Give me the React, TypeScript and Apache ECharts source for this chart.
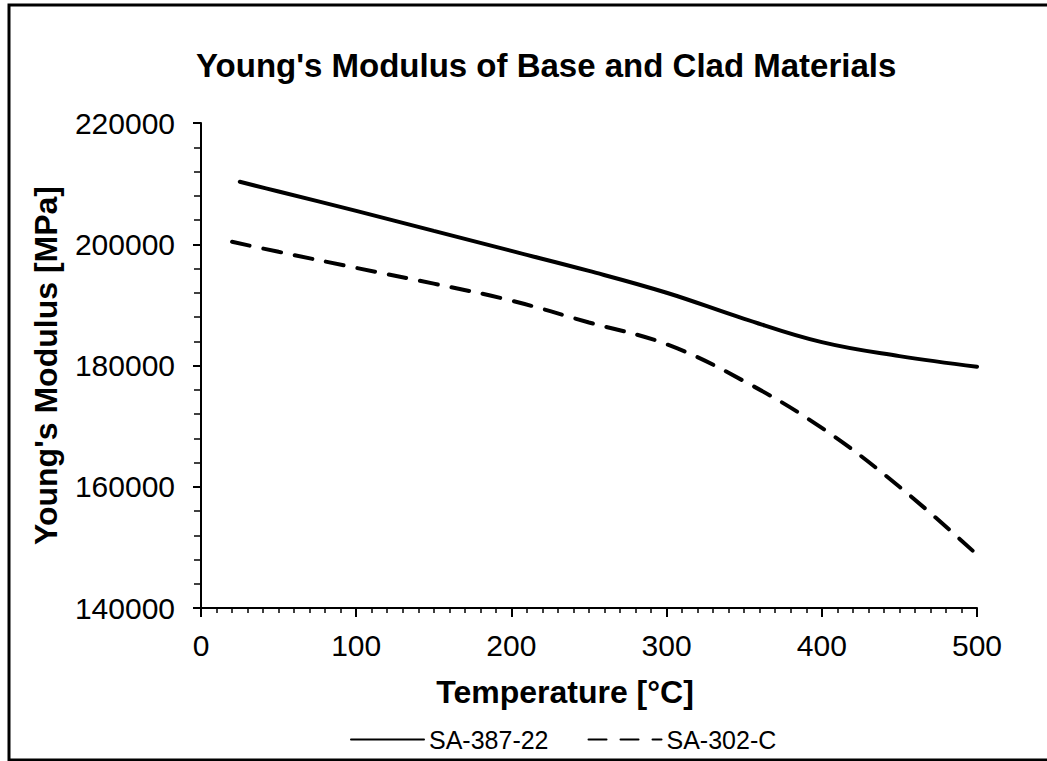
import React, { useEffect, useRef } from "react";
import * as echarts from "echarts";

const title = "Young's Modulus of Base and Clad Materials";
const xName = "Temperature [°C]";
const yName = "Young's Modulus [MPa]";
const seriesNames = ["SA-387-22", "SA-302-C"];

const tempsA = [25, 50, 100, 150, 200, 250, 300, 350, 400, 450, 500];
const modulusA = [210300, 208700, 205500, 202200, 198900, 195600, 192000, 187700, 183850, 181550, 179800];

const tempsB = [20, 50, 100, 150, 200, 250, 300, 350, 400, 450, 500];
const modulusB = [200400, 198750, 196100, 193500, 190700, 187100, 183500, 177400, 169700, 160000, 148800];

const FONT = "Liberation Sans, Arial, Helvetica, sans-serif";

export default function App() {
  const ref = useRef<HTMLDivElement>(null);
  useEffect(() => {
    document.body.style.margin = "0";
    if (!ref.current) return;
    const chart = echarts.init(ref.current, null, { renderer: "svg" });
    chart.setOption({
      animation: false,
      backgroundColor: "#ffffff",
      title: {
        text: title,
        left: 191,
        top: 44,
        textStyle: { fontFamily: FONT, fontSize: 33, fontWeight: "bold", color: "#000" },
      },
      graphic: [
        {
          type: "rect",
          shape: { x: 9, y: 5, width: 1060, height: 755 },
          style: { fill: "none", stroke: "#000", lineWidth: 3 },
          silent: true,
        },
      ],
      legend: {
        top: 722,
        left: 345,
        itemWidth: 73,
        itemHeight: 14,
        itemGap: 39,
        itemStyle: { color: "rgba(0,0,0,0)", borderWidth: 0 },
        textStyle: { fontFamily: FONT, fontSize: 25, color: "#000" },
        data: seriesNames,
      },
      grid: { left: 201, right: 70, top: 123, bottom: 153 },
      xAxis: {
        type: "value",
        min: 0,
        max: 500,
        interval: 100,
        name: xName,
        nameLocation: "middle",
        nameGap: 68,
        nameTextStyle: {
          fontFamily: FONT,
          fontSize: 32,
          fontWeight: "bold",
          color: "#000",
          padding: [0, 48, 0, 0],
        },
        axisLine: { lineStyle: { color: "#000", width: 2 } },
        axisTick: { length: 9, lineStyle: { color: "#000", width: 2 } },
        minorTick: { show: true, splitNumber: 10, length: 5, lineStyle: { color: "#000", width: 1.5 } },
        splitLine: { show: false },
        axisLabel: { fontFamily: FONT, fontSize: 30, color: "#000", margin: 22 },
      },
      yAxis: {
        type: "value",
        min: 140000,
        max: 220000,
        interval: 20000,
        name: yName,
        nameLocation: "middle",
        nameGap: 139,
        nameTextStyle: { fontFamily: FONT, fontSize: 32, fontWeight: "bold", color: "#000" },
        axisLine: { show: true, lineStyle: { color: "#000", width: 2 } },
        axisTick: { show: true, length: 8, lineStyle: { color: "#000", width: 2 } },
        minorTick: { show: true, splitNumber: 5, length: 7, lineStyle: { color: "#000", width: 1.5 } },
        splitLine: { show: false },
        axisLabel: {
          fontFamily: FONT,
          fontSize: 30,
          color: "#000",
          margin: 26,
          formatter: (v: number) => String(v),
        },
      },
      series: [
        {
          name: seriesNames[0],
          type: "line",
          smooth: 0.4,
          symbol: "none",
          data: tempsA.map((t, i) => [t, modulusA[i]]),
          lineStyle: { color: "#000", width: 4, cap: "round" },
          itemStyle: { color: "#000" },
        },
        {
          name: seriesNames[1],
          type: "line",
          smooth: 0.4,
          symbol: "none",
          data: tempsB.map((t, i) => [t, modulusB[i]]),
          lineStyle: { color: "#000", width: 4, type: [18, 14], cap: "round" },
          itemStyle: { color: "#000" },
        },
      ],
    });
    return () => chart.dispose();
  }, []);
  return <div ref={ref} style={{ width: 1047, height: 761 }} />;
}
